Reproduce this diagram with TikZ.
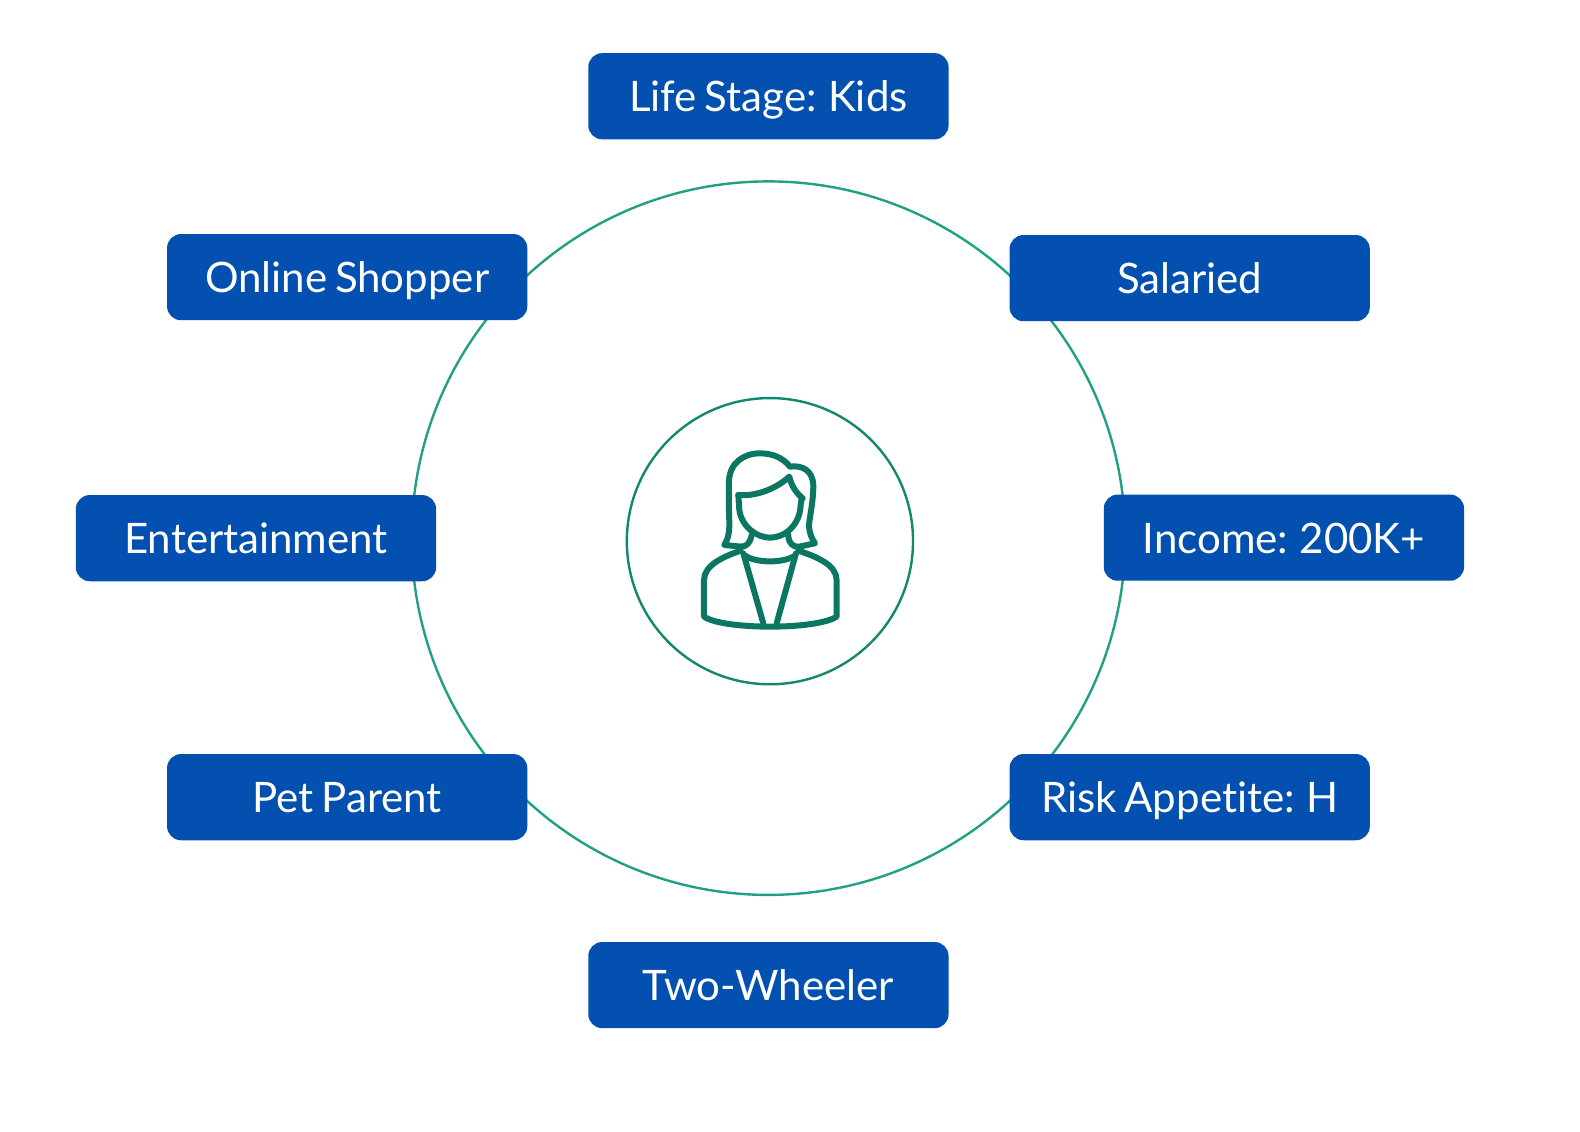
\documentclass[tikz,border=0pt]{standalone}
\usepackage{fontspec}
\setmainfont{Lato}[Ligatures=NoCommon,WordSpace=0.72]
\definecolor{boxblue}{HTML}{0350B0}
\definecolor{ringteal}{HTML}{22A085}
\definecolor{innerteal}{HTML}{14876F}
\definecolor{iconteal}{HTML}{0B7763}
\tikzset{
  tag/.style={fill=boxblue,rounded corners=14pt,minimum width=360.3pt,minimum height=86.2pt,inner sep=0pt,text=white,text height=36.5pt,text depth=5.5pt,font=\fontsize{42}{48}\selectfont,anchor=center},
  ring/.style={circle,draw=#1,line width=2.4pt,inner sep=0pt,fill=none},
  iconline/.style={draw=iconteal,line width=6pt,line cap=round,line join=round}
}
\begin{document}
\begin{tikzpicture}[x=1.00776pt,y=-1.00776pt]
\useasboundingbox (0pt,0pt) rectangle (1580pt,-1132pt);
\fill[white] (0pt,0pt) rectangle (1580pt,-1132pt);
\node[ring=ringteal,minimum size=713.5pt] (outer) at (762.5,534) {};
\node[ring=innerteal,minimum size=286.2pt] (inner) at (764,537) {};
\node[tag] (life) at (762.5,95.5) {Life Stage: Kids};
\node[tag] (online) at (344.5,275) {Online Shopper};
\node[tag] (salaried) at (1180.5,276) {Salaried};
\node[tag] (ent) at (254,534) {Entertainment};
\node[tag] (income) at (1274,533.5) {Income: 200K+};
\node[tag] (pet) at (344.5,791) {Pet Parent};
\node[tag] (risk) at (1180.5,791) {Risk Appetite: H};
\node[tag] (two) at (762.5,977.5) {Two-Wheeler};
\begin{scope}[shift={(610pt,-385pt)},x=0.3333pt,y=-0.3333pt,every path/.style={iconline}]
% hair
\path (392,485) -- (343,480) .. controls (362,450) and (358,420) .. (357,380)
  -- (357,290) .. controls (358,235) and (400,205) .. (450,205)
  .. controls (490,205) and (520,220) .. (540,245)
  .. controls (575,240) and (608,255) .. (610,300)
  .. controls (610,350) and (600,390) .. (597,420)
  .. controls (598,445) and (605,460) .. (615,475) -- (568,485) .. controls (550,488) and (535,475) .. (535,450);
\path (392,485) .. controls (410,485) and (420,475) .. (425,450);
% fringe
\path (385,330) .. controls (440,335) and (500,310) .. (538,275) .. controls (545,305) and (560,325) .. (578,340);
% face
\path (385,330) -- (388,375) .. controls (395,425) and (440,458) .. (480,458) .. controls (525,458) and (570,420) .. (572,360) -- (575,340);
% shoulders and base
\path (392,497) .. controls (340,515) and (283,540) .. (282,585) -- (282,695)
  .. controls (340,735) and (620,735) .. (680,695) -- (680,585)
  .. controls (680,540) and (620,515) .. (565,497);
% neckline
\path (405,512) .. controls (440,535) and (520,535) .. (555,512);
% lapels
\path (400,505) -- (460,715);
\path (558,505) -- (500,715);
\end{scope}
\end{tikzpicture}
\end{document}
